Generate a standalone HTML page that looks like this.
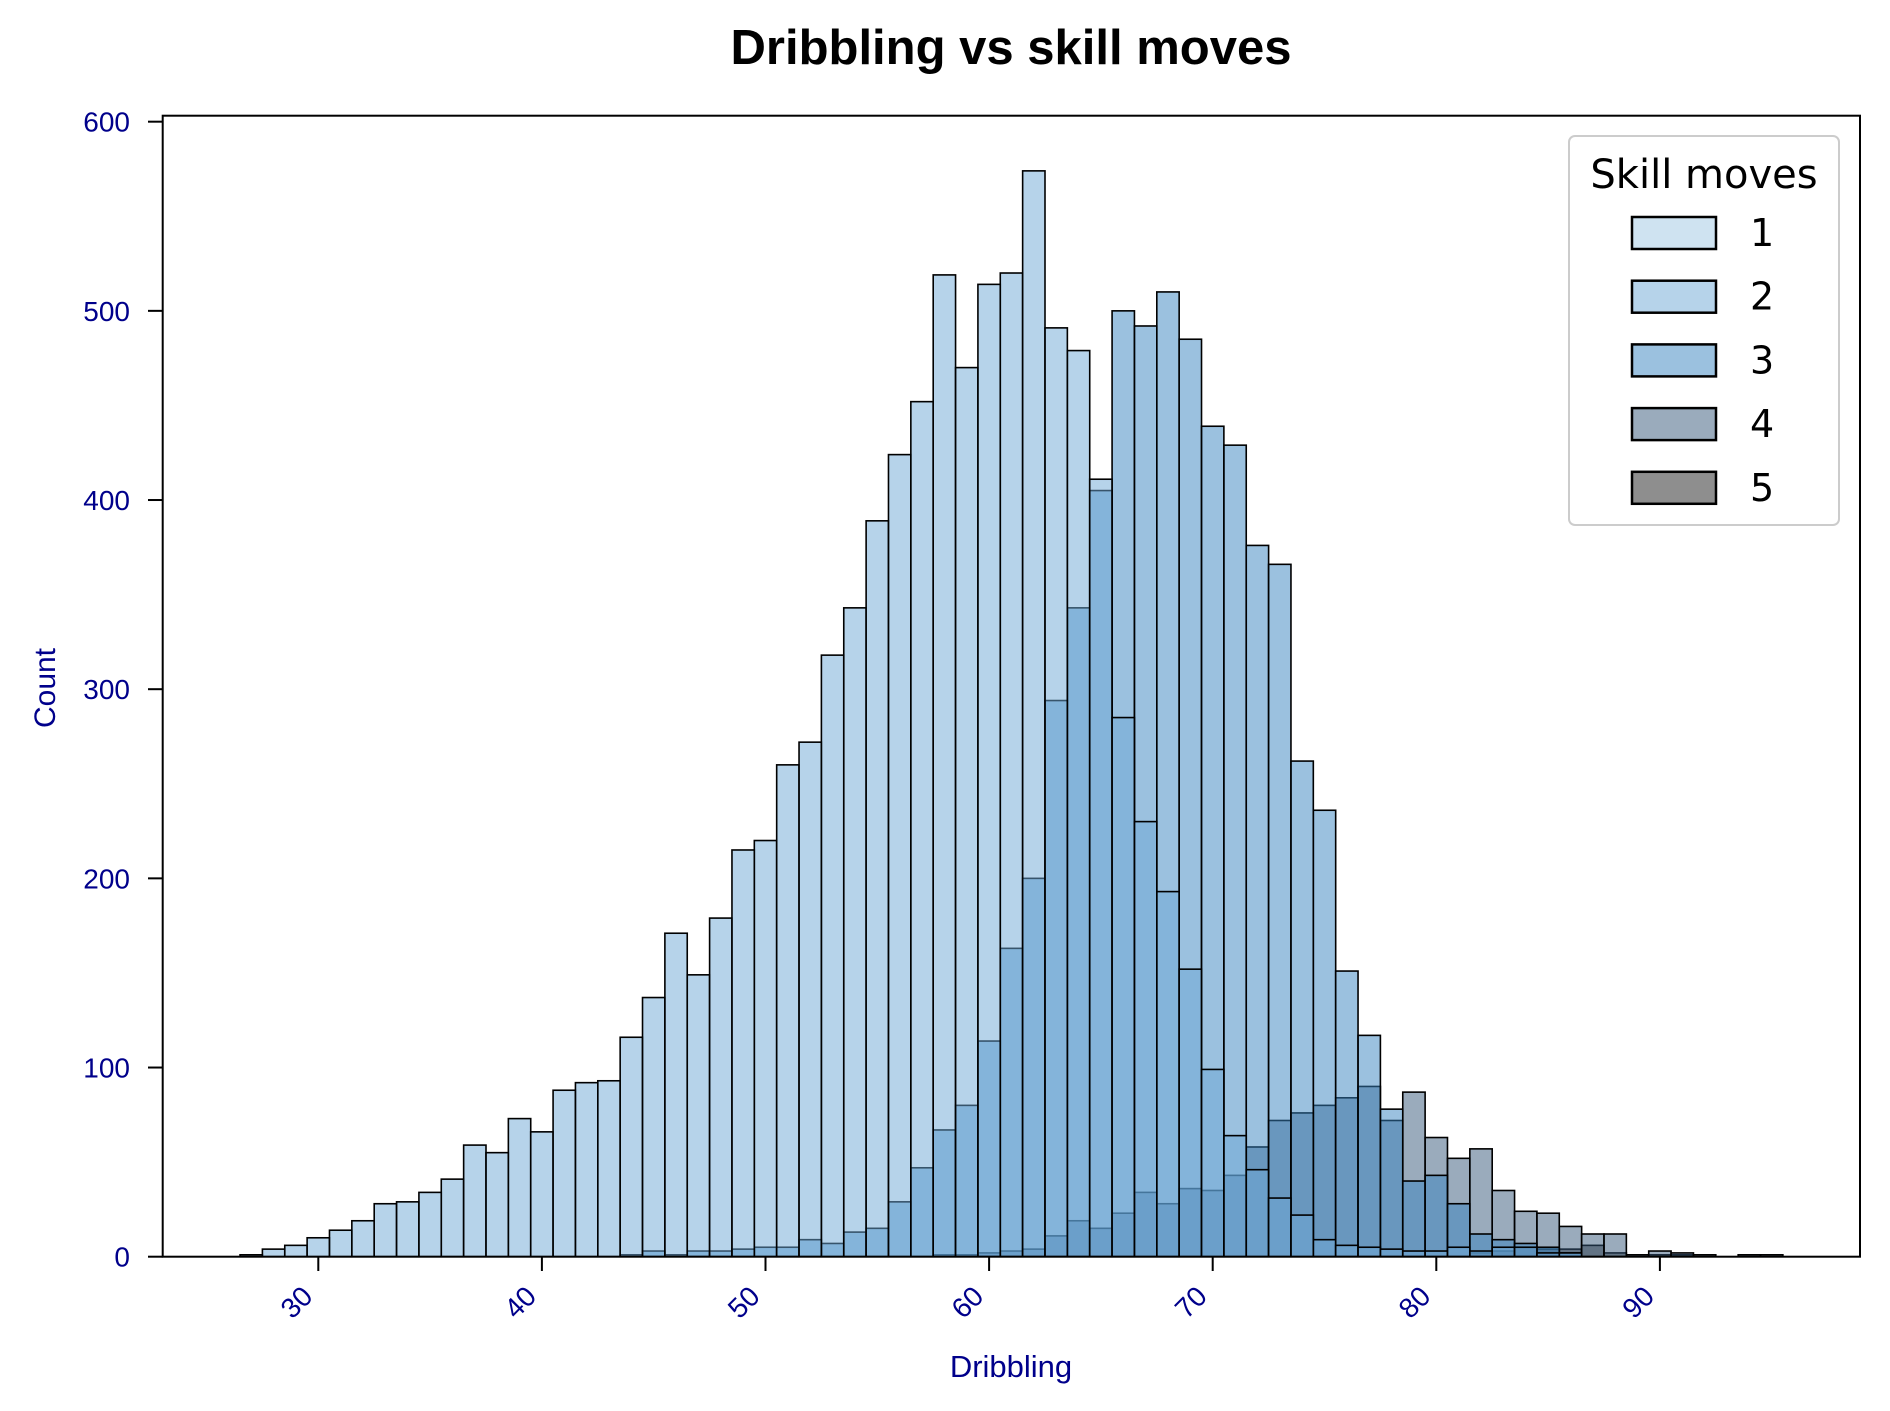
<!DOCTYPE html>
<html><head><meta charset="utf-8"><style>
html,body{margin:0;padding:0;background:#fff;}
svg{display:block;}
</style></head><body>
<svg id="chart" width="1890" height="1411" viewBox="0 0 1890 1411" xmlns="http://www.w3.org/2000/svg">
<rect width="1890" height="1411" fill="#fff"/>
<text x="1011" y="64" text-anchor="middle" font-family="Liberation Sans, sans-serif" font-weight="bold" font-size="49">Dribbling vs skill moves</text>
<g id="bars"></g>
<rect x="162.7" y="115.7" width="1697.3" height="1141" fill="none" stroke="#000" stroke-width="2"/>
<g id="axes"></g>
<text x="1011" y="1377" text-anchor="middle" font-family="Liberation Sans, sans-serif" font-size="31" fill="#00008b">Dribbling</text>
<text transform="translate(55,688) rotate(-90)" text-anchor="middle" font-family="Liberation Sans, sans-serif" font-size="30" fill="#00008b">Count</text>
<g>
<rect x="1569" y="136" width="270" height="389" rx="6" fill="#fff" fill-opacity="0.8" stroke="#ccc" stroke-width="2"/>
<text x="1704" y="188" text-anchor="middle" font-family="DejaVu Sans, sans-serif" font-size="40">Skill moves</text>
<g id="legend-entries"></g>
</g>
</svg>
<script>
const binStart = [27,28,29,30,31,32,33,34,35,36,37,38,39,40,41,42,43,44,45,46,47,48,49,50,51,52,53,54,55,56,57,58,59,60,61,62,63,64,65,66,67,68,69,70,71,72,73,74,75,76,77,78,79,80,81,82,83,84,85,86,87,88,89,90,91,92,93,94,95];
const hue1 = new Array(69).fill(0);
const hue2 = [1,4,6,10,14,19,28,29,34,41,59,55,73,66,88,92,93,116,137,171,149,179,215,220,260,272,318,343,389,424,452,519,470,514,520,574,491,479,411,
285,230,193,152,99,64,46,31,22,9,6,5,4,3,3,5,3,5,5,2,2,0,0,
0,0,0,0,0,0,0];
const hue3 = [0,0,0,0,0,0,0,0,0,0,0,0,0,0,0,0,0,
1,3,1,3,3,4,5,5,9,7,13,15,29,47,67,80,114,163,200,294,343,405,
500,492,510,485,439,429,376,366,262,236,151,117,78,40,43,28,12,9,7,5,2,0,0,
0,0,0,0,0,0,0];
const hue4 = [0,0,0,0,0,0,0,0,0,0,0,0,0,0,0,0,0,0,0,0,0,0,0,0,0,0,0,0,0,0,0,
1,1,2,3,4,11,19,15,
23,34,28,36,35,43,58,72,76,80,84,90,72,87,63,52,57,35,24,23,16,12,12,
1,3,2,1,0,1,1];
const hue5 = [0,0,0,0,0,0,0,0,0,0,0,0,0,0,0,0,0,0,0,0,0,0,0,0,0,0,0,0,0,0,0,0,0,0,0,0,0,0,0,0,0,0,0,0,0,0,0,0,0,0,0,0,0,0,0,
2,3,5,4,4,6,2,0,1,1,0,0,0,0];
const hueLabels = ["1","2","3","4","5"];
const hueColors = ["#a0c8e4","#6da8d5","#3783bf","#35577a","#1d1d1d"];
const yTicks = [0,100,200,300,400,500,600];
const xTicks = [30,40,50,60,70,80,90];

const NS = "http://www.w3.org/2000/svg";
function xs(v){ return 318.3 + (v - 30) * 22.36; }
function ys(v){ return 1256.7 - v * 1.8917; }
function mk(tag, attrs, parent){ const e = document.createElementNS(NS, tag); for (const k in attrs) e.setAttribute(k, attrs[k]); parent.appendChild(e); return e; }

const bars = document.getElementById('bars');
const series = [hue1, hue2, hue3, hue4, hue5];
for (let h = series.length - 1; h >= 0; h--) {
  const vals = series[h];
  const g = mk('g', {}, bars);
  
  
  vals.forEach((v, i) => {
    if (v <= 0) return;
    const x0 = xs(binStart[i] - 0.5), x1 = xs(binStart[i] + 0.5);
    const r = mk('rect', {x: x0, y: ys(v), width: x1 - x0, height: ys(0) - ys(v), fill: hueColors[h], 'fill-opacity': 0.5, stroke: '#000', 'stroke-width': 1.6}, g);
    
    
  });
}

const axes = document.getElementById('axes');
yTicks.forEach(t => {
  const y = ys(t);
  const l = mk('line', {x1: 148, x2: 162.7, y1: y, y2: y, stroke: '#000', 'stroke-width': 2}, axes);
  
  
  const tx = mk('text', {x: 130, y: y + 10, 'text-anchor': 'end', 'font-family': 'Liberation Sans, sans-serif', 'font-size': 28, fill: '#00008b'}, axes);
  tx.textContent = t;
  
  
});
xTicks.forEach(t => {
  const x = xs(t);
  const l = mk('line', {x1: x, x2: x, y1: 1256.7, y2: 1271, stroke: '#000', 'stroke-width': 2}, axes);
  
  
  const tx = mk('text', {transform: 'translate(' + (x - 4) + ',1298) rotate(-45)', 'text-anchor': 'end', 'font-family': 'Liberation Sans, sans-serif', 'font-size': 28, fill: '#00008b'}, axes);
  tx.textContent = t;
  
  
});

const le = document.getElementById('legend-entries');
hueLabels.forEach((lab, i) => {
  const cy = 233 + i * 63.7;
  const r = mk('rect', {x: 1632, y: cy - 16, width: 84, height: 32, fill: hueColors[i], 'fill-opacity': 0.5, stroke: '#000', 'stroke-width': 2.5}, le);
  
  
  const t = mk('text', {x: 1750, y: cy + 13, 'font-family': 'DejaVu Sans, sans-serif', 'font-size': 38}, le);
  t.textContent = lab;
  
  
});
</script>
</body></html>
